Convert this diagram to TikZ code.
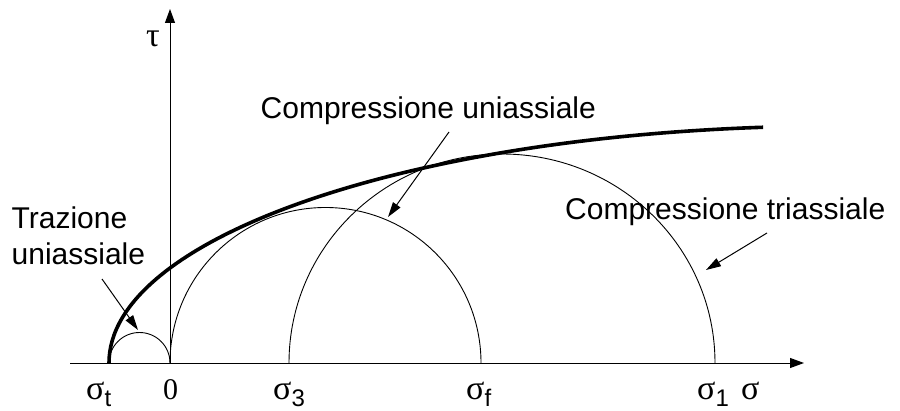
\documentclass[tikz,border=0pt]{standalone}
\usepackage{fontspec}
\setmainfont{Liberation Sans}
\newfontfamily\grfont{Liberation Serif}
\usetikzlibrary{arrows.meta}
\newcommand{\sgsub}[1]{{\grfont\fontsize{34}{40}\selectfont σ}\raisebox{-7pt}{\fontsize{24}{28}\selectfont #1}}
\begin{document}
\begin{tikzpicture}[x=1pt,y=1pt,
  lab/.style={anchor=base west,inner sep=0pt,font=\fontsize{30}{36}\selectfont},
  glab/.style={anchor=base west,inner sep=0pt,font=\grfont\fontsize{34}{40}\selectfont},
  axis/.style={line width=1pt,-{Triangle[length=14pt,width=10pt]}},
  thin/.style={line width=0.9pt},
  env/.style={line width=3.6pt},
  ann/.style={line width=1pt,-{Triangle[length=15pt,width=9pt]}}]
\useasboundingbox (0,0) rectangle (900,410);
% axes
\coordinate (xs) at (70,47);
\coordinate (xe) at (804,47);
\coordinate (O) at (170,47);
\coordinate (ye) at (170,401);
\draw[axis] (xs) -- (xe);
\draw[axis] (O) -- (ye);
% Mohr circles
\draw[thin] (109,47) arc[start angle=180,end angle=0,radius=30.5pt];
\draw[thin] (O) arc[start angle=180,end angle=0,radius=155.5pt];
\draw[thin] (715,47) arc[start angle=0,end angle=180,x radius=213pt,y radius=209pt];
% envelope
\draw[env] (109,47) arc[start angle=180,end angle=95.9,x radius=729pt,y radius=237pt];
% labels on axes
\node[lab] (st) at (86,11) {\sgsub{t}};
\node[glab,anchor=base,font=\grfont\fontsize{30}{36}\selectfont] (zero) at (170.5,11) {0};
\node[lab] (s3) at (273,11) {\sgsub{3}};
\node[lab] (sf) at (466,11) {\sgsub{f}};
\node[lab] (s1) at (697,11) {\sgsub{1}};
\node[glab] (sig) at (741,11) {σ};
\node[glab] (tau) at (146,363) {τ};
% annotations
\node[lab] (cu) at (260.5,291) {Compressione uniassiale};
\node[lab] (ct) at (565,190) {Compressione triassiale};
\node[lab] (tr1) at (11.5,181) {Trazione};
\node[lab] (tr2) at (11.5,145) {uniassiale};
\coordinate (cuA) at (449,278);
\coordinate (cuB) at (388,193);
\coordinate (ctA) at (767,177);
\coordinate (ctB) at (706,140);
\coordinate (trA) at (102,131);
\coordinate (trB) at (138,80);
\draw[ann] (cuA) -- (cuB);
\draw[ann] (ctA) -- (ctB);
\draw[ann] (trA) -- (trB);
\end{tikzpicture}
\end{document}
